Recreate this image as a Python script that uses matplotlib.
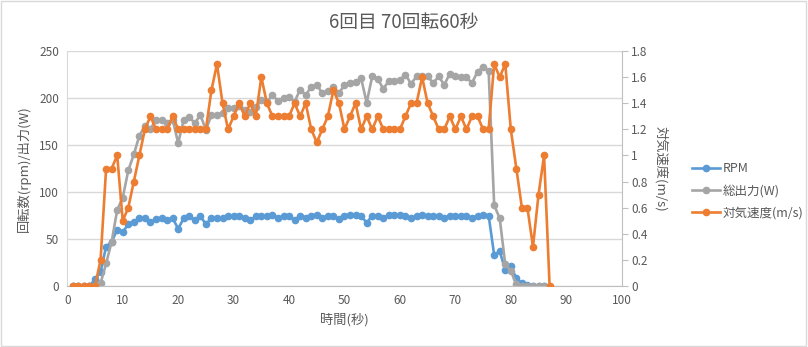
import numpy as np
import matplotlib
matplotlib.use("Agg")
import matplotlib.pyplot as plt
from matplotlib.ticker import FuncFormatter
from matplotlib.patches import Rectangle

plt.rcParams['font.family'] = ['Noto Sans CJK JP', 'DejaVu Sans']

# measured every second
rpm = [0, 0, 0, 0, 7, 15, 42, 47, 60, 57,
       66, 68, 72, 72, 68, 71, 72, 70, 72, 61,
       72, 74, 70, 74, 66, 72, 72, 72, 74, 74,
       74, 72, 70, 74, 75, 74, 76, 72, 74, 74,
       70, 75, 72, 75, 76, 72, 74, 75, 71, 75,
       76, 76, 75, 67, 75, 75, 72, 76, 76, 76,
       75, 72, 75, 76, 75, 74, 75, 72, 75, 75,
       75, 75, 72, 75, 76, 75, 33, 37, 17, 21,
       8, 3, 1, 0, 0, 0]
power = [0, 0, 0, 0, 0, 3, 24, 47, 81, 94,
         123, 140, 160, 170, 167, 177, 177, 173, 177, 152,
         177, 180, 173, 182, 166, 182, 182, 184, 189, 189,
         191, 187, 185, 190, 198, 196, 203, 197, 200, 201,
         196, 209, 203, 212, 214, 205, 207, 212, 205, 214,
         216, 217, 221, 195, 223, 220, 210, 218, 218, 219,
         225, 215, 223, 223, 223, 216, 223, 214, 226, 223,
         222, 222, 216, 228, 233, 229, 86, 72, 23, 16,
         2, 0.5, 0, 0, 0, 0]
airspeed = [0, 0, 0, 0, 0, 0.2, 0.9, 0.9, 1.0, 0.5,
            0.6, 0.8, 1.0, 1.2, 1.3, 1.2, 1.2, 1.2, 1.3, 1.2,
            1.2, 1.2, 1.2, 1.2, 1.2, 1.5, 1.7, 1.4, 1.2, 1.3,
            1.4, 1.3, 1.4, 1.3, 1.6, 1.4, 1.3, 1.3, 1.3, 1.3,
            1.4, 1.3, 1.4, 1.2, 1.1, 1.2, 1.3, 1.5, 1.4, 1.2,
            1.3, 1.4, 1.2, 1.3, 1.2, 1.3, 1.2, 1.2, 1.2, 1.2,
            1.3, 1.4, 1.4, 1.6, 1.4, 1.3, 1.2, 1.2, 1.3, 1.2,
            1.3, 1.2, 1.3, 1.3, 1.2, 1.2, 1.7, 1.6, 1.7, 1.2,
            0.9, 0.6, 0.6, 0.3, 0.7, 1.0, 0]

t_rpm = np.arange(1, len(rpm) + 1)
t_power = np.arange(1, len(power) + 1)
t_air = np.arange(1, len(airspeed) + 1)

BLUE = '#5B9BD5'
GRAY = '#A5A5A5'
ORANGE = '#ED7D31'
TEXT = '#595959'
GRID = '#D9D9D9'

fig = plt.figure(figsize=(8.08, 3.47), dpi=100)
ax = fig.add_axes([0.0833, 0.1758, 0.6861, 0.6772])
ax2 = ax.twinx()

line_kw = dict(lw=1.9, marker='o', markersize=4.5, solid_joinstyle='round')
h1, = ax.plot(t_rpm, rpm, color=BLUE, label='RPM', **line_kw)
h2, = ax.plot(t_power, power, color=GRAY, label='総出力(W)', **line_kw)
h3, = ax2.plot(t_air, airspeed, color=ORANGE, label='対気速度(m/s)', **line_kw)

ax.set_xlim(0, 100)
ax.set_ylim(0, 250)
ax.set_xticks(range(0, 101, 10))
ax.set_yticks(range(0, 251, 50))
ax2.set_ylim(0, 1.8)
ax2.set_yticks(np.arange(0, 1.81, 0.2))
ax2.yaxis.set_major_formatter(FuncFormatter(lambda v, p: f'{v:g}'))

ax.grid(axis='y', color=GRID, lw=1)
ax.set_axisbelow(True)
for a in (ax, ax2):
    for s in a.spines.values():
        s.set_visible(False)
ax.spines['bottom'].set_visible(True)
ax.spines['bottom'].set_color('#BFBFBF')
ax.spines['left'].set_visible(True)
ax.spines['left'].set_color(GRID)
ax2.spines['right'].set_visible(True)
ax2.spines['right'].set_color('#BFBFBF')

ax.tick_params(axis='both', length=0, labelsize=8.5, labelcolor=TEXT, pad=6)
ax2.tick_params(axis='y', length=4, color='#BFBFBF', labelsize=8.5,
                labelcolor=TEXT, pad=3)

ax.set_xlabel('時間(秒)', fontsize=9.5, color=TEXT, labelpad=4)
ax.set_ylabel('回転数(rpm)/出力(W)', fontsize=9.5, color=TEXT, labelpad=6)
ax2.set_ylabel('対気速度(m/s)', fontsize=9.5, color=TEXT, rotation=270,
               labelpad=14)

fig.text(0.5, 0.935, '6回目 70回転60秒', ha='center', va='center',
         fontsize=13.5, color=TEXT)

fig.legend(handles=[h1, h2, h3], loc='center left',
           bbox_to_anchor=(0.843, 0.45), frameon=False, fontsize=9,
           labelcolor=TEXT, handlelength=2.2, handletextpad=0.2,
           labelspacing=0.75)

fig.patches.append(Rectangle((0.001, 0.002), 0.997, 0.995,
                             transform=fig.transFigure, fill=False,
                             edgecolor=GRID, lw=1))

fig.savefig('out.png', dpi=100)
